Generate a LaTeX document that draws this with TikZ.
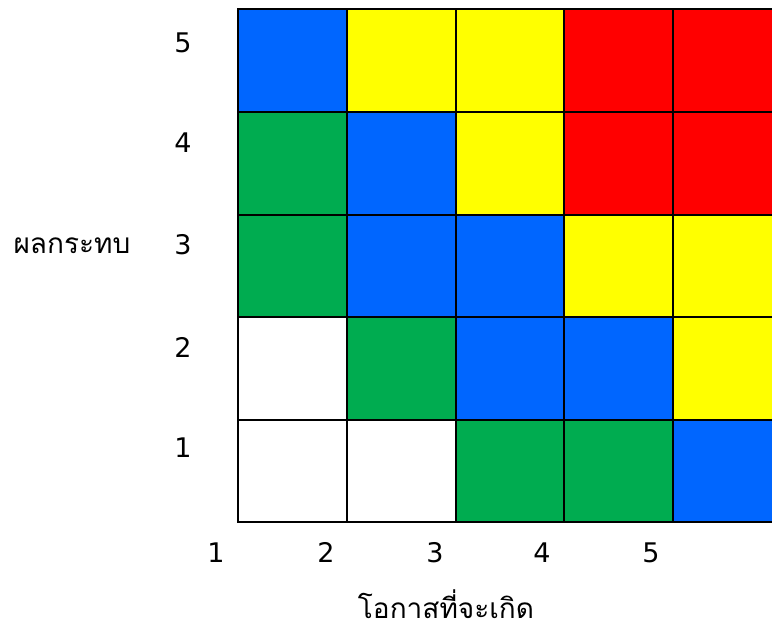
\documentclass[tikz,border=0pt]{standalone}
\usepackage{fontspec}
\setmainfont{DejaVu Sans}
\newfontfamily\thaifont[Script=Thai]{Loma}
\definecolor{cblue}{HTML}{0066FF}
\definecolor{cyellow}{HTML}{FFFF00}
\definecolor{cred}{HTML}{FF0000}
\definecolor{cgreen}{HTML}{00AC50}
\definecolor{cwhite}{HTML}{FFFFFF}
\begin{document}
\begin{tikzpicture}[x=1pt,y=-1pt,
  cell/.style={draw=black,line width=1.8pt},
  lab/.style={font=\fontsize{27}{30}\selectfont,inner sep=0pt,anchor=base},
  thai/.style={font=\thaifont\fontsize{28}{32}\selectfont,inner sep=0pt,anchor=base}]
\useasboundingbox (0,0) rectangle (772,632);
\def\xs{{238,347,456,564,673,782}}
\def\ys{{9,112,215,317,420,522}}
\foreach \r/\row in {0/{cblue,cyellow,cyellow,cred,cred},
                     1/{cgreen,cblue,cyellow,cred,cred},
                     2/{cgreen,cblue,cblue,cyellow,cyellow},
                     3/{cwhite,cgreen,cblue,cblue,cyellow},
                     4/{cwhite,cwhite,cgreen,cgreen,cblue}} {
  \foreach \c [count=\i from 0] in \row {
    \pgfmathsetmacro\xa{\xs[\i]}
    \pgfmathsetmacro\xb{\xs[\i+1]}
    \pgfmathsetmacro\ya{\ys[\r]}
    \pgfmathsetmacro\yb{\ys[\r+1]}
    \filldraw[cell,fill=\c] (\xa,\ya) rectangle (\xb,\yb);
  }
}
\node[lab] (y5) at (183,52) {5};
\node[lab] (y4) at (183,152) {4};
\node[lab] (y3) at (183,254) {3};
\node[lab] (y2) at (183,357) {2};
\node[lab] (y1) at (183,457) {1};
\node[lab] (x1) at (216,562) {1};
\node[lab] (x2) at (326,562) {2};
\node[lab] (x3) at (435,562) {3};
\node[lab] (x4) at (542,562) {4};
\node[lab] (x5) at (651,562) {5};
\node[thai] (ylab) at (72,253) {ผลกระทบ};
\node[thai] (xlab) at (446,618) {โอกาสที่จะเกิด};
\end{tikzpicture}
\end{document}
